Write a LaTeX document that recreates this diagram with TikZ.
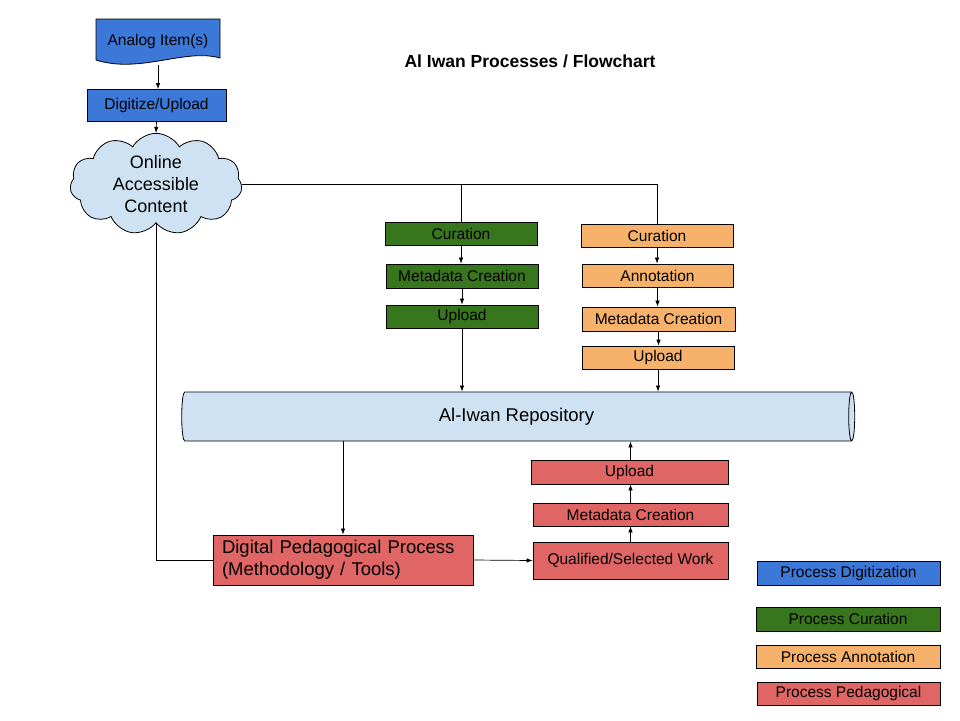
\documentclass[tikz,border=0pt]{standalone}
\usepackage{fontspec}
\setmainfont{Liberation Sans}
\usetikzlibrary{shapes.geometric,shapes.symbols,arrows.meta}

\definecolor{digiblue}{HTML}{3C78D8}
\definecolor{lightblue}{HTML}{CFE2F3}
\definecolor{curgreen}{HTML}{38761D}
\definecolor{annorange}{HTML}{F6B26B}
\definecolor{pedred}{HTML}{E06666}

\tikzset{
	box/.style={draw=black, line width=0.8pt, inner sep=0pt, minimum height=23pt, font=\fontsize{15.5}{18}\selectfont},
	digibox/.style={box, fill=digiblue},
	curbox/.style={box, fill=curgreen},
	annbox/.style={box, fill=annorange},
	pedbox/.style={box, fill=pedred},
	arr/.style={-{Latex[length=6pt,width=4.5pt]}, line width=0.7pt},
	link/.style={line width=0.7pt},
}

\begin{document}
\begin{tikzpicture}[x=1pt,y=-1pt]
		\useasboundingbox (0,0) rectangle (960,720);
		
		%Title
		\node[font=\fontsize{17.5}{20}\selectfont\bfseries] (title) at (530,61) {Al Iwan Processes / Flowchart};
		
		%Digitization
		\filldraw[fill=digiblue, draw=black, line width=0.8pt] (96,19) -- (220,19) -- (220,58) .. controls (185,48) and (140,74) .. (96,60) -- cycle;
		\node[font=\fontsize{15.5}{18}\selectfont] (analog) at (158,41) {Analog Item(s)};
		\coordinate (analogbot) at (158,65);
		
		\node[digibox, minimum width=139pt, minimum height=32pt] (digitize) at (156.5,105.5) {Digitize/Upload};
		
		\node[cloud, cloud puffs=11, cloud puff arc=120, aspect=1.8, draw=black, line width=0.8pt, fill=lightblue,
			minimum width=172pt, minimum height=96pt, inner sep=0pt, align=center,
			font=\fontsize{18}{22}\selectfont] (cloud) at (156,184) {Online\\Accessible\\Content};
		
		\draw[arr] (analogbot) -- (digitize.north -| analogbot);
		\draw[arr] (digitize.south) -- (cloud.north);
		
		%Curation
		\node[curbox, minimum width=152pt] (gcur) at (461,233.5) {Curation};
		\node[curbox, minimum width=152pt, minimum height=24pt] (gmeta) at (462,276) {Metadata Creation};
		\node[curbox, minimum width=152pt] (gup) at (462,316.5) {Upload};
		
		%Annotation
		\node[annbox, minimum width=152pt] (acur) at (657,235.5) {Curation};
		\node[annbox, minimum width=151pt] (aann) at (657.5,275.5) {Annotation};
		\node[annbox, minimum width=153pt, minimum height=24pt] (ameta) at (658.5,319) {Metadata Creation};
		\node[annbox, minimum width=152pt] (aup) at (658,357.5) {Upload};
		
		%Repository
		\node[cylinder, shape aspect=0.35, draw=black, line width=0.8pt, fill=lightblue, inner sep=0pt,
			minimum width=49pt, minimum height=673pt, font=\fontsize{18.5}{22}\selectfont] (repo) at (516.5,416.5) {Al-Iwan Repository};
		
		\draw[link] (cloud.east) -| (acur.north);
		\draw[link] (gcur.north |- cloud.east) -- (gcur.north);
		
		\draw[arr] (gcur.south) -- (gmeta.north -| gcur.south);
		\draw[arr] (gmeta.south) -- (gup.north);
		\draw[arr] (gup.south) -- (gup.south |- repo.north);
		
		\draw[arr] (acur.south) -- (aann.north -| acur.south);
		\draw[arr] (aann.south) -- (ameta.north -| aann.south);
		\draw[arr] (ameta.south) -- (aup.north -| ameta.south);
		\draw[arr] (aup.south) -- (aup.south |- repo.north);
		
		%Pedagogical
		\node[pedbox, minimum width=260pt, minimum height=50pt, text width=242pt, inner xsep=9pt, align=left,
			font=\fontsize{18.5}{22}\selectfont] (dpp) at (343,560) {Digital Pedagogical Process\\(Methodology / Tools)};
		\node[pedbox, minimum width=195pt, minimum height=37pt] (qual) at (630.5,560.5) {Qualified/Selected Work};
		\node[pedbox, minimum width=195pt] (pmeta) at (630.5,514.5) {Metadata Creation};
		\node[pedbox, minimum width=197pt, minimum height=24pt] (pup) at (629.5,472) {Upload};
		
		\draw[arr] (dpp.north |- repo.south) -- (dpp.north);
		\draw[link] (cloud.south) |- (dpp.west);
		\draw[arr] (dpp.east) -- (qual.west);
		\draw[arr] (qual.north) -- (pmeta.south);
		\draw[arr] (pmeta.north) -- (pup.south -| pmeta.north);
		\draw[arr] (pup.north -| pmeta.north) -- (pmeta.north |- repo.south);
		
		%Legend
		\node[digibox, minimum width=183pt, minimum height=24pt] (legdigi) at (848.5,573) {Process Digitization};
		\node[curbox, minimum width=184pt, minimum height=24pt] (legcur) at (848,619) {Process Curation};
		\node[annbox, minimum width=184pt] (legann) at (848,656.5) {Process Annotation};
		\node[pedbox, minimum width=183pt] (legped) at (848.5,693.5) {Process Pedagogical};
		
\end{tikzpicture}
\end{document}
